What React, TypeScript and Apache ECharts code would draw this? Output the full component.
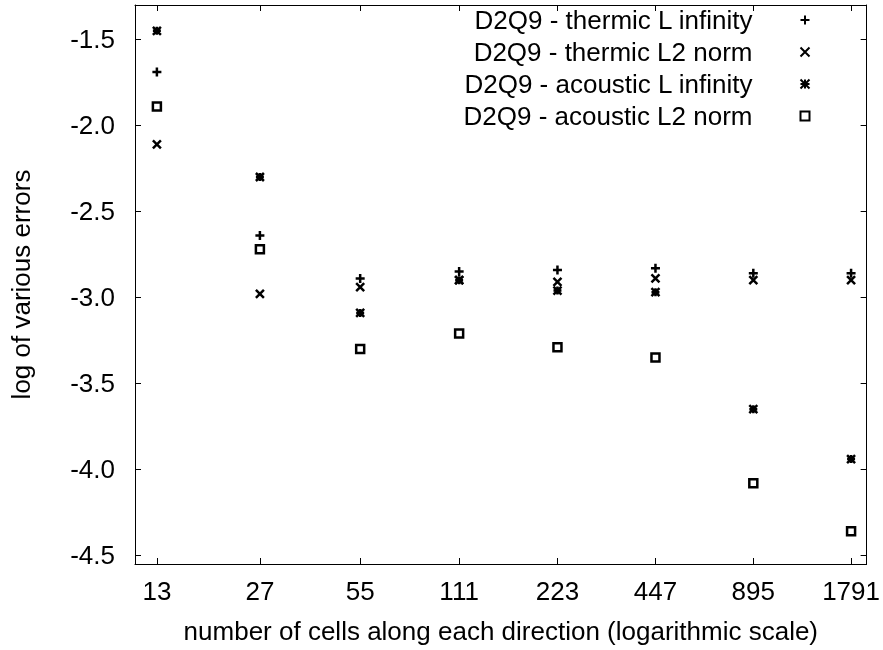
import React, { useEffect, useRef } from "react";
import * as echarts from "echarts";

const cells = [13, 27, 55, 111, 223, 447, 895, 1791];
const thermicLinf = [-1.69, -2.64, -2.89, -2.85, -2.84, -2.83, -2.86, -2.86];
const thermicL2 = [-2.11, -2.98, -2.94, -2.9, -2.91, -2.89, -2.9, -2.9];
const acousticLinf = [-1.45, -2.3, -3.09, -2.9, -2.96, -2.97, -3.65, -3.94];
const acousticL2 = [-1.89, -2.72, -3.3, -3.21, -3.29, -3.35, -4.08, -4.36];
const yTicks = [-4.5, -4.0, -3.5, -3.0, -2.5, -2.0, -1.5];

const seriesNames = [
  "D2Q9 - thermic L infinity",
  "D2Q9 - thermic L2 norm",
  "D2Q9 - acoustic L infinity",
  "D2Q9 - acoustic L2 norm",
];

const PLUS = "path://M0,5L10,5M5,0L5,10";
const CROSS = "path://M0,0L10,10M10,0L0,10";
const STAR = "path://M0,5L10,5M5,0L5,10M0,0L10,10M10,0L0,10";
const SQUARE = "path://M0,0L10,0L10,10L0,10Z";

const FONT = "Liberation Sans";
const FS = 26;

export default function App() {
  const ref = useRef<HTMLDivElement>(null);
  useEffect(() => {
    if (!ref.current) return;
    const chart = echarts.init(ref.current, null, { renderer: "svg" });
    const mk = (name: string, vals: number[], symbol: string, size: number) => ({
      name,
      type: "scatter",
      symbol,
      symbolSize: size,
      data: cells.map((c, i) => [c, vals[i]]),
      itemStyle: { color: "none", borderColor: "#000", borderWidth: 2.5, opacity: 1 },
      emphasis: { disabled: true },
    });
    const xBase = {
      type: "log",
      logBase: 2,
      min: 11.13,
      max: 2000,
      axisLine: { show: true, onZero: false, lineStyle: { color: "#000", width: 1 } },
      splitLine: { show: false },
      minorTick: { show: false },
    };
    const yBase = {
      type: "value",
      min: -4.55,
      max: -1.3,
      axisLine: { show: true, onZero: false, lineStyle: { color: "#000", width: 1 } },
      splitLine: { show: false },
    };
    chart.setOption({
      animation: false,
      textStyle: { fontFamily: FONT },
      grid: { left: 135, right: 12, top: 5, bottom: 86, containLabel: false },
      legend: {
        orient: "vertical",
        align: "right",
        right: 71,
        top: 7,
        padding: 0,
        itemWidth: 9,
        itemHeight: 9,
        itemGap: 6,
        data: seriesNames,
        textStyle: { fontSize: FS, color: "#000", fontFamily: FONT, padding: [0, 43, 0, 0] },
        selectedMode: false,
      },
      xAxis: [
        {
          ...xBase,
          position: "bottom",
          name: "number of cells along each direction (logarithmic scale)",
          nameLocation: "middle",
          nameGap: 54,
          nameTextStyle: { fontSize: FS, color: "#000", fontFamily: FONT },
          axisTick: { show: true, inside: true, length: 6, customValues: cells, lineStyle: { color: "#000" } },
          axisLabel: {
            show: true,
            customValues: cells,
            margin: 14,
            fontSize: FS,
            color: "#000",
            fontFamily: FONT,
            formatter: (v: number) => String(Math.round(v)),
          },
        },
        {
          ...xBase,
          position: "top",
          axisTick: { show: true, inside: true, length: 6, customValues: cells, lineStyle: { color: "#000" } },
          axisLabel: { show: false },
        },
      ],
      yAxis: [
        {
          ...yBase,
          position: "left",
          name: "log of various errors",
          nameLocation: "middle",
          nameGap: 101,
          nameTextStyle: { fontSize: FS, color: "#000", fontFamily: FONT },
          axisTick: { show: true, inside: true, length: 6, customValues: yTicks, lineStyle: { color: "#000" } },
          axisLabel: {
            show: true,
            customValues: yTicks,
            margin: 20,
            fontSize: FS,
            color: "#000",
            fontFamily: FONT,
            formatter: (v: number) => v.toFixed(1),
          },
        },
        {
          ...yBase,
          position: "right",
          axisTick: { show: true, inside: true, length: 6, customValues: yTicks, lineStyle: { color: "#000" } },
          axisLabel: { show: false },
        },
      ],
      series: [
        mk(seriesNames[0], thermicLinf, PLUS, 9),
        mk(seriesNames[1], thermicL2, CROSS, 8),
        mk(seriesNames[2], acousticLinf, STAR, 8),
        mk(seriesNames[3], acousticL2, SQUARE, 8),
      ],
    });
    return () => chart.dispose();
  }, []);
  return (
    <div
      ref={ref}
      style={{ position: "fixed", left: 0, top: 0, width: 883, height: 650 }}
    />
  );
}
